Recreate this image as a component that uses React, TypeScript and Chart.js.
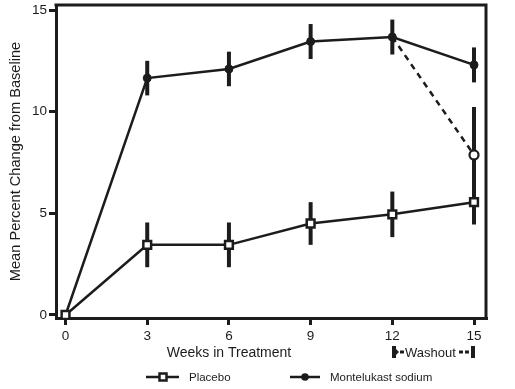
import React, { useEffect, useRef } from "react";
import { Chart, registerables } from "chart.js";

Chart.register(...registerables);

const weeks = [0, 3, 6, 9, 12, 15];
const placeboMean = [0, 3.45, 3.45, 4.5, 4.95, 5.55];
const placeboErr = [0, 1.1, 1.1, 1.05, 1.12, 1.1];
const montelukastMean = [0, 11.65, 12.1, 13.45, 13.67, 12.3];
const montelukastErr = [0, 0.85, 0.85, 0.86, 0.86, 0.86];
const washoutWeeks = [12, 15];
const washoutMean = [13.67, 7.87];
const washoutErr = [0, 2.36];
const xTicks = [0, 3, 6, 9, 12, 15];
const yTicks = [0, 5, 10, 15];

const INK = "#1c1c1c";
const FONT = "'Liberation Sans', Arial, Helvetica, sans-serif";

const pts = (xs: number[], ys: number[]) => xs.map((x, i) => ({ x, y: ys[i] }));

const decorPlugin = {
  id: "decor",
  beforeDatasetsDraw(chart: any) {
    const { ctx, scales } = chart;
    const xs = scales.x;
    const ys = scales.y;
    ctx.save();
    ctx.strokeStyle = INK;
    ctx.lineWidth = 4;
    ctx.lineCap = "butt";
    const bar = (x: number, m: number, e: number) => {
      if (!e) return;
      const px = xs.getPixelForValue(x);
      ctx.beginPath();
      ctx.moveTo(px, ys.getPixelForValue(m + e));
      ctx.lineTo(px, ys.getPixelForValue(m - e));
      ctx.stroke();
    };
    weeks.forEach((w, i) => bar(w, placeboMean[i], placeboErr[i]));
    weeks.forEach((w, i) => bar(w, montelukastMean[i], montelukastErr[i]));
    washoutWeeks.forEach((w, i) => bar(w, washoutMean[i], washoutErr[i]));
    ctx.restore();
  },
  afterDraw(chart: any) {
    const { ctx, chartArea } = chart;
    ctx.save();
    // frame top & right
    ctx.strokeStyle = INK;
    ctx.lineWidth = 3;
    ctx.beginPath();
    ctx.moveTo(chartArea.left - 1.5, chartArea.top);
    ctx.lineTo(chartArea.right, chartArea.top);
    ctx.lineTo(chartArea.right, chartArea.bottom + 1.5);
    ctx.stroke();

    ctx.fillStyle = INK;
    ctx.textBaseline = "middle";
    // x title
    ctx.font = `14px ${FONT}`;
    ctx.textAlign = "center";
    ctx.fillText("Weeks in Treatment", 229, 353);

    // washout label
    ctx.fillRect(392, 346, 4, 12);
    ctx.beginPath();
    ctx.moveTo(396, 349);
    ctx.lineTo(399, 352);
    ctx.lineTo(396, 355);
    ctx.fill();
    ctx.fillRect(400, 350.5, 4, 3);
    ctx.font = `13px ${FONT}`;
    ctx.textAlign = "left";
    ctx.fillText("Washout", 405, 353);
    ctx.fillRect(459, 350.5, 4, 3);
    ctx.fillRect(465, 350.5, 4, 3);
    ctx.fillRect(471, 346, 4, 12);

    // legend
    const ly = 377;
    ctx.lineWidth = 2.5;
    ctx.beginPath();
    ctx.moveTo(146, ly);
    ctx.lineTo(179, ly);
    ctx.stroke();
    ctx.fillStyle = "#fff";
    ctx.fillRect(159.5, ly - 3.5, 7, 7);
    ctx.strokeRect(159.5, ly - 3.5, 7, 7);
    ctx.beginPath();
    ctx.moveTo(290, ly);
    ctx.lineTo(320, ly);
    ctx.stroke();
    ctx.fillStyle = INK;
    ctx.beginPath();
    ctx.arc(305, ly, 3.8, 0, Math.PI * 2);
    ctx.fill();
    ctx.font = `11.5px ${FONT}`;
    ctx.fillText("Placebo", 189, ly + 0.5);
    ctx.fillText("Montelukast sodium", 330, ly + 0.5);
    ctx.restore();
  },
};

export default function App() {
  const ref = useRef<HTMLCanvasElement>(null);
  useEffect(() => {
    if (!ref.current) return;
    const chart = new Chart(ref.current, {
      type: "line",
      data: {
        datasets: [
          {
            label: "Washout",
            data: pts(washoutWeeks, washoutMean),
            borderColor: INK,
            borderWidth: 2.5,
            borderDash: [6, 5],
            pointRadius: [0, 4.5],
            pointBackgroundColor: "#fff",
            pointBorderColor: INK,
            pointBorderWidth: 2.2,
            order: 3,
          },
          {
            label: "Placebo",
            data: pts(weeks, placeboMean),
            borderColor: INK,
            borderWidth: 2.5,
            pointStyle: "rect",
            pointRadius: 5.5,
            pointBackgroundColor: "#fff",
            pointBorderColor: INK,
            pointBorderWidth: 2.5,
            order: 1,
          },
          {
            label: "Montelukast sodium",
            data: pts(weeks, montelukastMean),
            borderColor: INK,
            borderWidth: 2.5,
            pointStyle: "circle",
            pointRadius: 4,
            pointBackgroundColor: INK,
            pointBorderColor: INK,
            pointBorderWidth: 1,
            order: 2,
          },
        ],
      },
      options: {
        animation: false,
        responsive: false,
        maintainAspectRatio: false,
        layout: { autoPadding: false, padding: { top: 5, right: 29, left: 0, bottom: 0 } },
        plugins: { legend: { display: false }, tooltip: { enabled: false } },
        scales: {
          x: {
            type: "linear",
            min: -0.35,
            max: 15.44,
            afterBuildTicks: (s: any) => {
              s.ticks = xTicks.map((v) => ({ value: v }));
            },
            afterFit: (s: any) => {
              s.height = 71;
              s.paddingLeft = 0;
              s.paddingRight = 0;
            },
            grid: {
              drawOnChartArea: false,
              drawTicks: true,
              tickLength: 7,
              lineWidth: 3,
              tickWidth: 3,
              tickColor: INK,
            },
            border: { display: true, width: 3, color: INK },
            ticks: {
              color: INK,
              padding: 3,
              font: { family: FONT, size: 13.5 },
              maxRotation: 0,
            },
          },
          y: {
            type: "linear",
            min: -0.148,
            max: 15.246,
            afterBuildTicks: (s: any) => {
              s.ticks = yTicks.map((v) => ({ value: v }));
            },
            afterFit: (s: any) => {
              s.width = 56;
              s.paddingTop = 0;
              s.paddingBottom = 0;
            },
            grid: {
              drawOnChartArea: false,
              drawTicks: true,
              tickLength: 7,
              lineWidth: 3,
              tickWidth: 3,
              tickColor: INK,
            },
            border: { display: true, width: 3, color: INK },
            ticks: {
              color: INK,
              padding: 2,
              font: { family: FONT, size: 13.5 },
            },
            title: {
              display: true,
              text: "Mean Percent Change from Baseline",
              color: INK,
              font: { family: FONT, size: 14.6 },
              padding: { top: 7, bottom: 0 },
            },
          },
        },
      },
      plugins: [decorPlugin],
    });
    return () => chart.destroy();
  }, []);
  return (
    <div style={{ position: "absolute", left: 0, top: 0, width: 515, height: 389, background: "#fff" }}>
      <canvas ref={ref} width={515} height={389} style={{ display: "block", width: 515, height: 389 }} />
    </div>
  );
}
